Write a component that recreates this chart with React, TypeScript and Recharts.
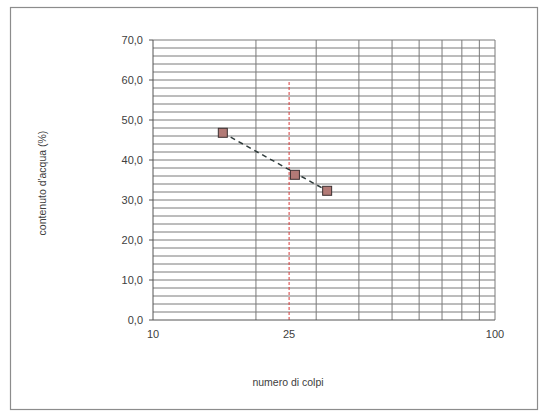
import {
  ScatterChart,
  Scatter,
  XAxis,
  YAxis,
  ReferenceLine,
  Label,
} from "recharts";

// measured points (numero di colpi / contenuto d'acqua)
const BLOWS = [16, 26, 32.3];
const WATER = [46.8, 36.3, 32.3];

// dashed trend line endpoints
const TREND_X = [16, 32.3];
const TREND_Y = [46.8, 32.3];

const X_TICKS = [10, 25, 100];
const Y_TICKS = [0, 10, 20, 30, 40, 50, 60, 70];
const V_GRID = [20, 30, 40, 50, 60, 70, 80, 90, 100];
const H_GRID = [
  2, 4, 6, 8, 10, 12, 14, 16, 18, 20, 22, 24, 26, 28, 30, 32, 34, 36,
  38, 40, 42, 44, 46, 48, 50, 52, 54, 56, 58, 60, 62, 64, 66, 68, 70,
];
const LIMIT_BLOWS = 25;
const LIMIT_TOP = 60;

const GRID_COLOR = "#7a7a7a";
const TEXT_COLOR = "#404040";
const FONT = "'Liberation Sans', Arial, sans-serif";

const points = BLOWS.map((x, i) => ({ x, y: WATER[i] }));
const trend = TREND_X.map((x, i) => ({ x, y: TREND_Y[i] }));

function SquareMarker(props: { cx?: number; cy?: number }) {
  const { cx = 0, cy = 0 } = props;
  return (
    <rect
      x={cx - 4.5}
      y={cy - 4.5}
      width={9}
      height={9}
      fill="#b27a76"
      stroke="#3b3030"
      strokeWidth={1}
    />
  );
}

export default function App() {
  return (
    <div
      style={{
        position: "fixed",
        left: 0,
        top: 0,
        width: 541,
        height: 415,
        background: "#fff",
        fontFamily: FONT,
        overflow: "hidden",
      }}
    >
      <div style={{ position: "absolute", left: 0, top: 0 }}>
        <ScatterChart
          width={541}
          height={415}
          margin={{ top: 40, right: 46, bottom: 65, left: 93 }}
        >
          <XAxis
            type="number"
            dataKey="x"
            scale="log"
            domain={[10, 100]}
            allowDataOverflow
            ticks={X_TICKS}
            tickLine={false}
            tickSize={6}
            tickMargin={4}
            height={30}
            axisLine={{ stroke: "#555" }}
            tick={{ fontSize: 11, fill: TEXT_COLOR, fontFamily: FONT }}
          >
            <Label
              value="numero di colpi"
              position="center"
              dx={-36}
              dy={47}
              style={{ fontSize: 10.5, fill: TEXT_COLOR, fontFamily: FONT }}
            />
          </XAxis>
          <YAxis
            type="number"
            dataKey="y"
            domain={[0, 70]}
            allowDataOverflow
            ticks={Y_TICKS}
            width={60}
            tickSize={4}
            tickMargin={6}
            tickFormatter={(v: number) => v.toFixed(1).replace(".", ",")}
            axisLine={{ stroke: "#555" }}
            tickLine={{ stroke: "#555" }}
            tick={{ fontSize: 11, fill: TEXT_COLOR, fontFamily: FONT }}
          >
            <Label
              value="contenuto d'acqua (%)"
              angle={-90}
              position="center"
              dx={-81}
              dy={3}
              style={{ fontSize: 10.5, fill: TEXT_COLOR, fontFamily: FONT, textAnchor: "middle" }}
            />
          </YAxis>
          {H_GRID.map((v) => (
            <ReferenceLine key={`h${v}`} y={v} stroke={GRID_COLOR} strokeWidth={1} />
          ))}
          {V_GRID.map((v) => (
            <ReferenceLine key={`v${v}`} x={v} stroke={GRID_COLOR} strokeWidth={1} />
          ))}
          <ReferenceLine
            segment={[
              { x: LIMIT_BLOWS, y: 0 },
              { x: LIMIT_BLOWS, y: LIMIT_TOP },
            ]}
            stroke="#d83a3a"
            strokeWidth={1}
            strokeDasharray="3 2"
          />
          <Scatter
            data={trend}
            line={{ stroke: "#2f3b3b", strokeWidth: 1.5, strokeDasharray: "5 4" }}
            shape={() => <g />}
            isAnimationActive={false}
          />
          <Scatter
            data={points}
            shape={<SquareMarker />}
            isAnimationActive={false}
          />
        </ScatterChart>
      </div>
      {/* outer chart frame */}
      <svg
        width={541}
        height={415}
        style={{ position: "absolute", left: 0, top: 0, pointerEvents: "none" }}
      >
        <rect x={10.5} y={7.5} width={527} height={402} fill="none" stroke="#8c8c8c" strokeWidth={1.2} />
      </svg>
    </div>
  );
}
